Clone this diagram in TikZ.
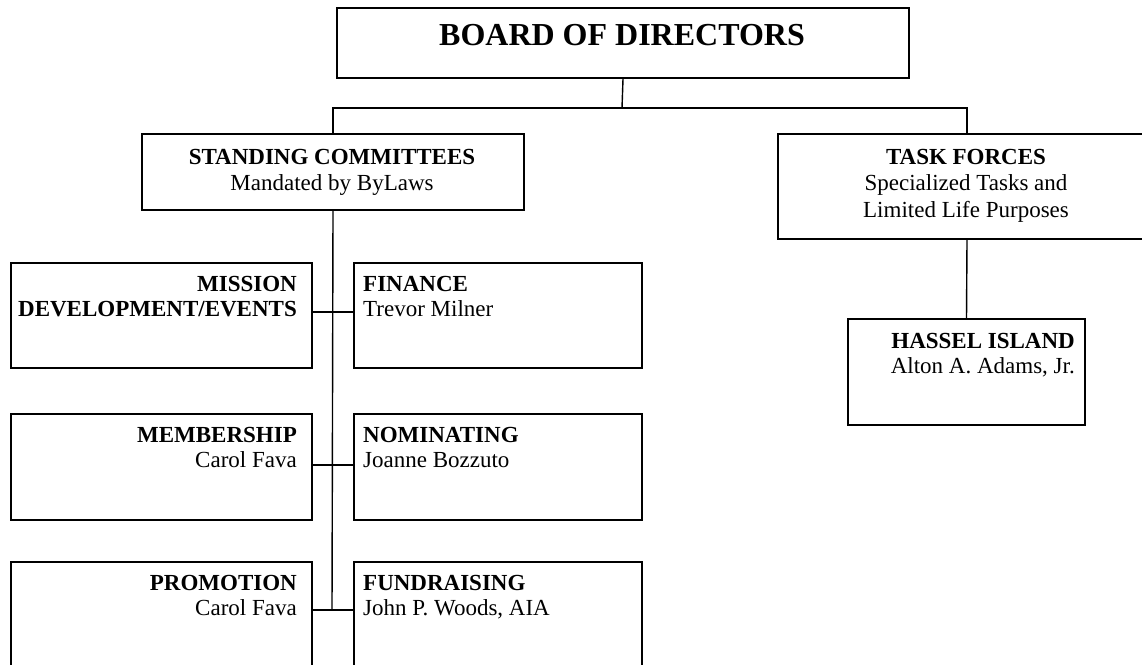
\documentclass[tikz,border=0pt]{standalone}
\usepackage{fontspec}
\setmainfont{Liberation Serif}
\begin{document}
\begin{tikzpicture}[x=1pt,y=-1pt,
  box/.style={draw, line width=2pt, inner sep=0pt, anchor=north west},
  conn/.style={line width=1.4pt},
  big/.style={font=\fontsize{32}{36}\selectfont\bfseries, inner sep=0pt, anchor=base},
  hdc/.style={font=\fontsize{23}{26}\selectfont\bfseries, inner sep=0pt, anchor=base},
  txc/.style={font=\fontsize{23}{26}\selectfont, inner sep=0pt, anchor=base},
  hdr/.style={font=\fontsize{23}{26}\selectfont\bfseries, inner sep=0pt, anchor=base east},
  txr/.style={font=\fontsize{23}{26}\selectfont, inner sep=0pt, anchor=base east},
  hdl/.style={font=\fontsize{23}{26}\selectfont\bfseries, inner sep=0pt, anchor=base west},
  txl/.style={font=\fontsize{23}{26}\selectfont, inner sep=0pt, anchor=base west}]
\fill[white] (0,0) rectangle (1142,664);
\useasboundingbox (0,0) rectangle (1142,664);
\clip (0,0) rectangle (1142,664);

% top level
\node[box, minimum width=572pt, minimum height=70pt] (board) at (336,7) {};
\node[big] (boardt) at (622,45) {BOARD OF DIRECTORS};

\node[box, minimum width=382pt, minimum height=76pt] (standing) at (141,133) {};
\node[hdc] (standingt) at (332,164) {STANDING COMMITTEES};
\node[txc] (standings) at (332,190) {Mandated by ByLaws};

\node[box, minimum width=378pt, minimum height=105pt] (task) at (777,133) {};
\node[hdc] (taskt) at (966,164) {TASK FORCES};
\node[txc] (tasks1) at (966,190) {Specialized Tasks and};
\node[txc] (tasks2) at (966,217) {Limited Life Purposes};

\node[box, minimum width=237pt, minimum height=106pt] (hassel) at (847,318) {};
\node[hdr] (hasselt) at (1075,348) {HASSEL ISLAND};
\node[txr] (hassels) at (1075,373) {Alton A. Adams, Jr.};

% left column
\node[box, minimum width=301pt, minimum height=105pt] (mission) at (10,262) {};
\node[hdr] (missiont) at (297,291) {MISSION};
\node[hdr] (missions) at (297,316) {DEVELOPMENT/EVENTS};

\node[box, minimum width=301pt, minimum height=106pt] (member) at (10,413) {};
\node[hdr] (membert) at (297,442) {MEMBERSHIP};
\node[txr] (members) at (297,467) {Carol Fava};

\node[box, minimum width=301pt, minimum height=108pt] (promo) at (10,561) {};
\node[hdr] (promot) at (297,590) {PROMOTION};
\node[txr] (promos) at (297,615) {Carol Fava};

% right column
\node[box, minimum width=288pt, minimum height=105pt] (finance) at (353,262) {};
\node[hdl] (financet) at (363,291) {FINANCE};
\node[txl] (finances) at (363,316) {Trevor Milner};

\node[box, minimum width=288pt, minimum height=106pt] (nomin) at (353,413) {};
\node[hdl] (nomint) at (363,442) {NOMINATING};
\node[txl] (nomins) at (363,467) {Joanne Bozzuto};

\node[box, minimum width=288pt, minimum height=108pt] (fund) at (353,561) {};
\node[hdl] (fundt) at (363,590) {FUNDRAISING};
\node[txl] (funds) at (363,615) {John P. Woods, AIA};

% connectors
\coordinate (bar) at (622,108);
\coordinate (r1) at (332,312);
\coordinate (r2) at (332,465);
\coordinate (r3) at (332,610);

\draw[conn] (board.south) -- (bar);
\draw[conn] (standing.north) |- (bar) -| (task.north);
\draw[conn] (task.south) -- (hassel.north);
\draw[conn] (standing.south) -- (r3);
\draw[conn] (r1 -| mission.east) -- (r1 -| finance.west);
\draw[conn] (r2 -| member.east) -- (r2 -| nomin.west);
\draw[conn] (r3 -| promo.east) -- (r3 -| fund.west);
\end{tikzpicture}
\end{document}
